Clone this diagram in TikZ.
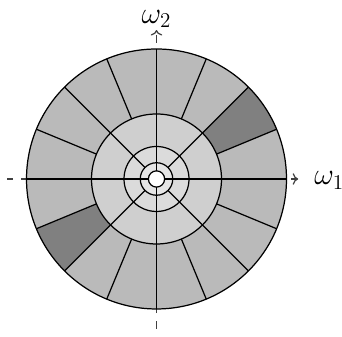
\documentclass[tikz,border=0pt]{standalone}
\usepackage{amsmath,amssymb}
\usepackage{tikz}
\usetikzlibrary{arrows.meta,positioning,calc}

\begin{document}
\begin{tikzpicture}[x=2.6cm, y=2.6cm, line width=0.7pt,
    font=\fontsize{16.5}{20}\selectfont,
    axis/.style={->, dash pattern=on 0.16cm off 0.158cm, black!75},
    outerring/.style={fill=black!27},
    midring/.style={fill=black!19},
    innerring/.style={fill=black!14},
    coreband/.style={fill=black!10},
    picked/.style={fill=black!50}]
  \useasboundingbox (-1.204,-1.215) rectangle (1.427,1.377);
  % frequency axes, mostly hidden under the tiling
  \coordinate (xstart) at (-1.15,0);
  \coordinate (xend) at (1.09,0);
  \coordinate (ystart) at (0,-1.154);
  \coordinate (yend) at (0,1.146);
  \draw[axis, dash phase=0.034cm] (xstart) -- (xend);
  \draw[axis] (ystart) -- (yend);
  \node[anchor=west, inner sep=0pt] (w1) at (1.21,-0.01) {$\omega_1$};
  \node[inner sep=0pt] (w2) at (0,1.232) {$\omega_2$};
  % dyadic rings, coarse to fine
  \fill[outerring] (0,0) circle (1);
  \foreach \a in {22.5,202.5} {
    \fill[picked] (\a:0.5) -- (\a:1) arc[start angle=\a, delta angle=22.5, radius=1]
      -- ({\a+22.5}:0.5) arc[start angle={\a+22.5}, delta angle=-22.5, radius=0.5] -- cycle;
  }
  \fill[midring] (0,0) circle (0.5);
  \fill[innerring] (0,0) circle (0.25);
  \fill[coreband] (0,0) circle (0.125);
  \fill[white] (0,0) circle (0.0625);
  \foreach \r in {1,0.5,0.25,0.125,0.0625}
    \draw (0,0) circle (\r);
  % wedges: 16 in the outer ring, 8 in the middle, 4 near the centre
  \foreach \a in {0,22.5,...,337.5}
    \draw (\a:0.5) -- (\a:1);
  \foreach \a in {45,135,225,315}
    \draw (\a:0.125) -- (\a:0.5);
  \foreach \a in {0,90,180,270}
    \draw (\a:0.0625) -- (\a:0.5);
\end{tikzpicture}
\end{document}
